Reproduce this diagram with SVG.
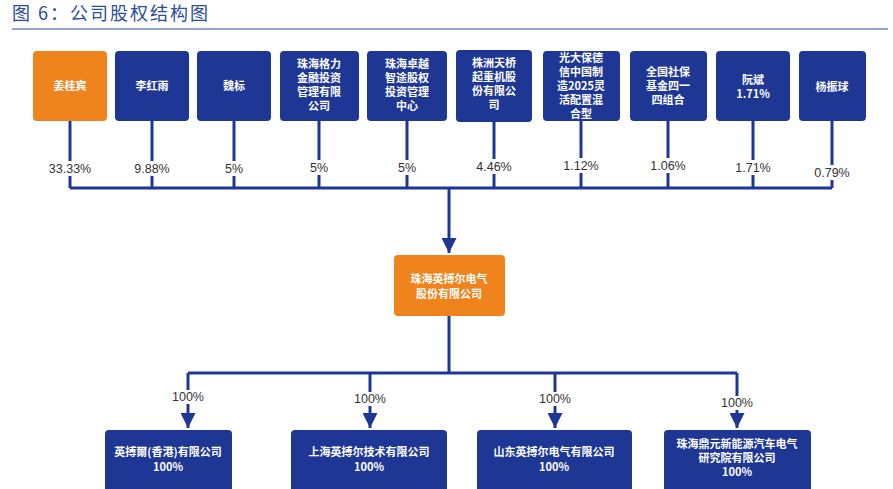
<svg xmlns="http://www.w3.org/2000/svg" width="893" height="489" viewBox="0 0 893 489">
<style>
.n{fill:#1e3795}.o{fill:#f0841c}
.t{font-family:"Noto Sans CJK SC","Liberation Sans",sans-serif;font-size:11px;font-weight:bold;fill:#fff;text-anchor:middle}
.p{font-family:"Liberation Sans","Noto Sans CJK SC",sans-serif;font-size:12.5px;fill:#333;text-anchor:middle}
.l{stroke:#1e3795;stroke-width:3;fill:none}
</style>
<defs><marker id="b" viewBox="0 0 10 10" markerWidth="5" markerHeight="5" refX="10" refY="5" orient="auto"><path d="M0,0L10,5L0,10Z" fill="#1e3795"/></marker></defs>
<rect width="893" height="489" fill="#fff"/>
<text x="12" y="20" font-family="Noto Sans CJK SC,sans-serif" font-size="18" fill="#2a4d9c" letter-spacing="2">图 6：公司股权结构图</text>
<line x1="12" y1="29" x2="888" y2="29" stroke="#2a4d9c" stroke-width="1"/>
<g id="connectors" class="l">
<path d="M70 121V188M152 121V188M234 121V188M319 121V188M407 121V188M494 121V188M581 121V188M668 121V188M753 121V188M832 121V188M70 188H832"/>
<path d="M449 188V253" marker-end="url(#b)"/>
<path d="M449 316V373M188 373H737"/>
<path d="M188 373V428" marker-end="url(#b)"/>
<path d="M370 373V428" marker-end="url(#b)"/>
<path d="M555 373V428" marker-end="url(#b)"/>
<path d="M737 373V428" marker-end="url(#b)"/>
</g>
<g class="p">
<rect x="44" y="161" width="52" height="15" fill="#fff"/><text x="70" y="173">33.33%</text>
<rect x="130" y="161" width="44" height="15" fill="#fff"/><text x="152" y="173">9.88%</text>
<rect x="222" y="161" width="24" height="15" fill="#fff"/><text x="234" y="173">5%</text>
<rect x="307" y="160" width="24" height="15" fill="#fff"/><text x="319" y="172">5%</text>
<rect x="395" y="160" width="24" height="15" fill="#fff"/><text x="407" y="172">5%</text>
<rect x="472" y="159" width="44" height="15" fill="#fff"/><text x="494" y="171">4.46%</text>
<rect x="559" y="158" width="44" height="15" fill="#fff"/><text x="581" y="170">1.12%</text>
<rect x="646" y="158" width="44" height="15" fill="#fff"/><text x="668" y="170">1.06%</text>
<rect x="731" y="160" width="44" height="15" fill="#fff"/><text x="753" y="172">1.71%</text>
<rect x="810" y="165" width="44" height="15" fill="#fff"/><text x="832" y="177">0.79%</text>
<rect x="168" y="390" width="40" height="14" fill="#fff"/><text x="188" y="401">100%</text>
<rect x="350" y="392" width="40" height="14" fill="#fff"/><text x="370" y="403">100%</text>
<rect x="535" y="392" width="40" height="14" fill="#fff"/><text x="555" y="403">100%</text>
<rect x="717" y="396" width="40" height="14" fill="#fff"/><text x="737" y="407">100%</text>
</g>
<g id="n1"><rect class="o" x="33" y="51" width="74" height="70" rx="4"/><text class="t" x="70" y="90">姜桂宾</text></g>
<g id="n2"><rect class="n" x="115" y="51" width="74" height="70" rx="4"/><text class="t" x="152" y="90">李红雨</text></g>
<g id="n3"><rect class="n" x="197" y="51" width="74" height="70" rx="4"/><text class="t" x="234" y="90">魏标</text></g>
<g id="n4"><rect class="n" x="280" y="51" width="79" height="70" rx="4"/><text class="t" x="319" y="68">珠海格力<tspan x="319" dy="14">金融投资</tspan><tspan x="319" dy="14">管理有限</tspan><tspan x="319" dy="14">公司</tspan></text></g>
<g id="n5"><rect class="n" x="367" y="51" width="80" height="70" rx="4"/><text class="t" x="407" y="68">珠海卓越<tspan x="407" dy="14">智途股权</tspan><tspan x="407" dy="14">投资管理</tspan><tspan x="407" dy="14">中心</tspan></text></g>
<g id="n6"><rect class="n" x="456" y="50" width="76" height="72" rx="4"/><text class="t" x="494" y="67">株洲天桥<tspan x="494" dy="14">起重机股</tspan><tspan x="494" dy="14">份有限公</tspan><tspan x="494" dy="14">司</tspan></text></g>
<g id="n7"><rect class="n" x="543" y="51" width="77" height="70" rx="4"/><text class="t" x="581" y="62">光大保德<tspan x="581" dy="14">信中国制</tspan><tspan x="581" dy="14">造2025灵</tspan><tspan x="581" dy="14">活配置混</tspan><tspan x="581" dy="14">合型</tspan></text></g>
<g id="n8"><rect class="n" x="630" y="51" width="77" height="70" rx="4"/><text class="t" x="668" y="76">全国社保<tspan x="668" dy="14">基金四一</tspan><tspan x="668" dy="14">四组合</tspan></text></g>
<g id="n9"><rect class="n" x="716" y="51" width="74" height="70" rx="4"/><text class="t" x="753" y="84">阮斌<tspan x="753" dy="14">1.71%</tspan></text></g>
<g id="n10"><rect class="n" x="799" y="51" width="67" height="70" rx="4"/><text class="t" x="832" y="91">杨振球</text></g>
<g id="main"><rect class="o" x="394" y="255" width="111" height="61" rx="4"/><text class="t" x="449" y="283">珠海英搏尔电气<tspan x="449" dy="15">股份有限公司</tspan></text></g>
<g id="c1"><rect class="n" x="105" y="430" width="127" height="62" rx="4"/><text class="t" x="168" y="456">英搏爾(香港)有限公司<tspan x="168" dy="15">100%</tspan></text></g>
<g id="c2"><rect class="n" x="291" y="430" width="156" height="62" rx="4"/><text class="t" x="369" y="456">上海英搏尔技术有限公司<tspan x="369" dy="15">100%</tspan></text></g>
<g id="c3"><rect class="n" x="477" y="430" width="155" height="62" rx="4"/><text class="t" x="554" y="456">山东英搏尔电气有限公司<tspan x="554" dy="15">100%</tspan></text></g>
<g id="c4"><rect class="n" x="664" y="430" width="147" height="62" rx="4"/><text class="t" x="737" y="448">珠海鼎元新能源汽车电气<tspan x="737" dy="14">研究院有限公司</tspan><tspan x="737" dy="14">100%</tspan></text></g>
</svg>
